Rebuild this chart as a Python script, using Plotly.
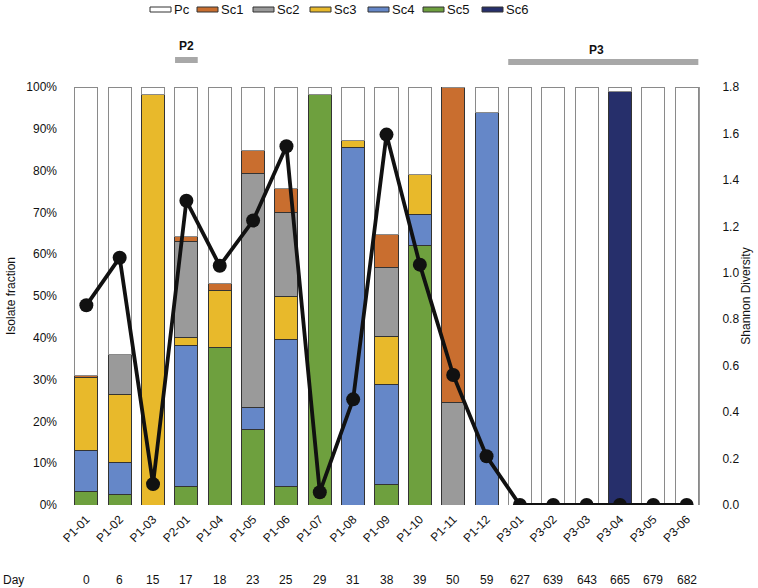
import plotly.graph_objects as go

samples = ["P1-01", "P1-02", "P1-03", "P2-01", "P1-04", "P1-05", "P1-06", "P1-07", "P1-08",
           "P1-09", "P1-10", "P1-11", "P1-12", "P3-01", "P3-02", "P3-03", "P3-04", "P3-05", "P3-06"]
days = [0, 6, 15, 17, 18, 23, 25, 29, 31, 38, 39, 50, 59, 627, 639, 643, 665, 679, 682]

# fractions in % (stacked bottom to top: Sc6, Sc5, Sc4, Sc3, Sc2, Sc1, Pc)
sc5 = [3.2, 2.5, 0, 4.4, 37.7, 18.0, 4.5, 98.3, 0, 4.9, 62.2, 0, 0, 0, 0, 0, 0, 0, 0]
sc4 = [9.8, 7.6, 0, 33.7, 0, 5.4, 35.1, 0, 85.6, 24.0, 7.3, 0, 93.9, 0, 0, 0, 0, 0, 0]
sc3 = [17.5, 16.4, 98.2, 2.0, 13.5, 0, 10.4, 0, 1.6, 11.5, 9.5, 0, 0, 0, 0, 0, 0, 0, 0]
sc2 = [0, 9.5, 0, 22.9, 0, 56.0, 19.9, 0, 0, 16.4, 0, 24.6, 0, 0, 0, 0, 0, 0, 0]
sc1 = [0.6, 0, 0, 1.2, 1.7, 5.5, 5.9, 0, 0, 8.0, 0, 75.4, 0, 0, 0, 0, 0, 0, 0]
sc6 = [0, 0, 0, 0, 0, 0, 0, 0, 0, 0, 0, 0, 0, 0, 0, 0, 99.0, 0, 0]
pc = [68.9, 64.0, 1.8, 35.8, 47.1, 15.1, 24.2, 1.7, 12.8, 35.2, 21.0, 0, 6.1, 100, 100, 100, 1.0, 100, 100]

shannon = [0.86, 1.065, 0.09, 1.31, 1.03, 1.225, 1.545, 0.055, 0.455, 1.595, 1.035, 0.56, 0.21,
           0, 0, 0, 0, 0, 0]

pct_ticks = list(range(0, 101, 10))
pct_labels = [f"{v}%" for v in pct_ticks]

stack_order = ["Sc6", "Sc5", "Sc4", "Sc3", "Sc2", "Sc1", "Pc"]
legend_order = ["Pc", "Sc1", "Sc2", "Sc3", "Sc4", "Sc5", "Sc6"]
values = {"Sc6": sc6, "Sc5": sc5, "Sc4": sc4, "Sc3": sc3, "Sc2": sc2, "Sc1": sc1, "Pc": pc}
colors = {"Pc": "#FFFFFF", "Sc1": "#C96E2F", "Sc2": "#9A9A9A", "Sc3": "#E8B92B",
          "Sc4": "#6587C8", "Sc5": "#6EA03E", "Sc6": "#262F6B"}
outline = {sp: ("#8A8A8A" if sp == "Pc" else "#333333") for sp in legend_order}

fig = go.Figure()
for sp in stack_order:
    fig.add_trace(go.Bar(
        x=samples, y=values[sp], name=sp, showlegend=False,
        marker=dict(color=colors[sp], line=dict(color=outline[sp], width=1)),
        yaxis="y",
    ))

fig.add_trace(go.Scatter(
    x=samples, y=shannon, yaxis="y2", mode="lines+markers",
    line=dict(color="#111111", width=3.8),
    marker=dict(color="#111111", size=14),
    showlegend=False,
))

font_family = "Arial, Liberation Sans, Helvetica, sans-serif"

# page body margin is removed by post_script below, so the figure sits at (0, 0)
OFF = 0
FW, FH = 758 - OFF, 588 - OFF
# target plot area in window pixels: left 74, right 699, top 87, bottom 505
L, T = 74 - OFF, 87 - OFF
R = FW - (699 - OFF)
B = FH - (505 - OFF)
PW, PH = FW - L - R, FH - T - B


def px(xp):  # window pixel -> paper x
    return (xp - OFF - L) / PW


def py(yp):  # window pixel -> paper y
    return (FH - B - (yp - OFF)) / PH


shapes = [
    dict(type="line", xref="x", yref="paper", x0=2.66, x1=3.34, y0=py(60), y1=py(60),
         line=dict(color="#A8A8A8", width=6)),
    dict(type="line", xref="x", yref="paper", x0=12.65, x1=18.35, y0=py(62), y1=py(62),
         line=dict(color="#A8A8A8", width=6)),
]

annotations = [
    dict(text="<b>P2</b>", xref="x", yref="paper", x=3.0, y=py(46), yanchor="middle",
         showarrow=False, font=dict(size=12, color="#111111")),
    dict(text="<b>P3</b>", xref="x", yref="paper", x=15.3, y=py(50), yanchor="middle",
         showarrow=False, font=dict(size=12, color="#111111")),
    dict(text="Day", xref="paper", yref="paper", x=px(1), y=py(580), showarrow=False,
         xanchor="left", yanchor="middle", font=dict(size=12, color="#111111")),
]
for s, d in zip(samples, days):
    annotations.append(dict(text=str(d), xref="x", yref="paper", x=s, y=py(580),
                            yanchor="middle", showarrow=False,
                            font=dict(size=12, color="#111111")))

# custom legend (flat swatches)
legend_starts = [150, 197, 253, 310, 368, 423, 482]
for sp, xs in zip(legend_order, legend_starts):
    shapes.append(dict(type="rect", xref="paper", yref="paper",
                       x0=px(xs), x1=px(xs + 21), y0=py(12), y1=py(7),
                       fillcolor=colors[sp], line=dict(color="#333333", width=1)))
    annotations.append(dict(text=sp, xref="paper", yref="paper", x=px(xs + 22), y=py(9),
                            xanchor="left", yanchor="middle", showarrow=False,
                            font=dict(size=13, color="#111111")))

fig.update_layout(
    width=FW, height=FH,
    margin=dict(l=L, r=R, t=T, b=B, autoexpand=False),
    paper_bgcolor="white", plot_bgcolor="white",
    font=dict(family=font_family, size=12, color="#111111"),
    barmode="stack", bargap=0.31,
    showlegend=False,
    hovermode=False,
    xaxis=dict(range=[-0.37, 18.37], tickangle=-45, showline=False, ticks="",
               showgrid=False, tickfont=dict(size=12), ticklabelstandoff=4),
    yaxis=dict(range=[0, 100], tickmode="array", tickvals=pct_ticks, ticktext=pct_labels,
               showgrid=False, showline=False, ticks="", zeroline=False,
               title=dict(text="Isolate fraction", font=dict(size=12), standoff=8),
               ticklabelstandoff=16),
    yaxis2=dict(range=[0, 1.8], overlaying="y", side="right", dtick=0.2, tickformat=".1f",
                showgrid=False, showline=True, linecolor="#999999", linewidth=1,
                ticks="", zeroline=False,
                title=dict(text="Shannon Diversity", font=dict(size=12), standoff=0),
                ticklabelstandoff=20),
    shapes=shapes,
    annotations=annotations,
)

fig.write_html("out.html",
               config={"displayModeBar": False},
               post_script="document.body.style.margin='0';document.body.style.overflow='hidden';")
